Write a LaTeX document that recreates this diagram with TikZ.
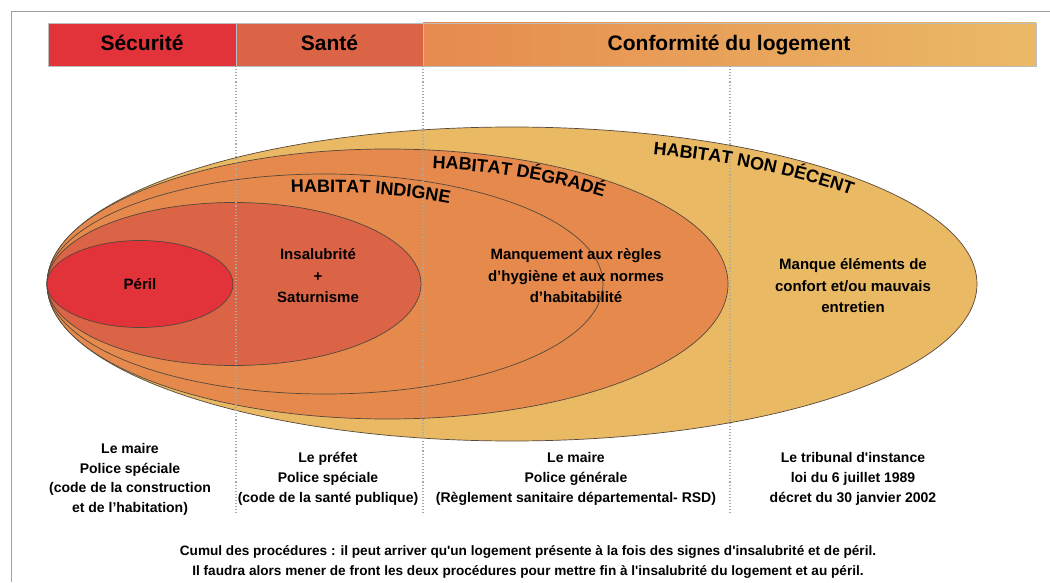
\documentclass[tikz,border=0pt]{standalone}
\usepackage{fontspec}
\setmainfont{Liberation Sans}[Ligatures=TeXOff]
\usetikzlibrary{decorations.text}
\definecolor{cSec}{HTML}{E2333A}
\definecolor{cSan}{HTML}{DC6446}
\definecolor{cConfL}{HTML}{E68A4E}
\definecolor{cConfR}{HTML}{EBBA66}
\definecolor{cND}{HTML}{EAB964}
\definecolor{cDeg}{HTML}{E6894D}
\definecolor{cLine}{HTML}{54483C}
\definecolor{cFrame}{HTML}{A0A0A0}
\definecolor{cSep}{HTML}{A8A8A8}
\tikzset{
  ell/.style={draw=cLine, line width=0.7pt},
  hdrbox/.style={draw=cFrame!70, line width=0.6pt},
  hdr/.style={font=\fontsize{21}{24}\selectfont\bfseries, inner sep=0pt, anchor=base},
  lbl/.style={font=\fontsize{15}{21.5}\selectfont\bfseries, align=center, inner sep=0pt},
  bot/.style={font=\fontsize{14}{19.7}\selectfont\bfseries, align=center, inner sep=0pt},
  foot/.style={font=\fontsize{13.6}{20}\selectfont\bfseries, align=center, inner sep=0pt},
  sepline/.style={draw=cSep, dotted, line width=1.1pt},
  framel/.style={draw=cFrame, line width=0.8pt},
}
\newcommand{\habfont}{\fontsize{18}{18}\selectfont\bfseries}
\begin{document}
\begin{tikzpicture}[x=1pt,y=1pt]
\useasboundingbox (0,0) rectangle (1050,582);
% frame
\coordinate (fTL) at (11,571);
\coordinate (fTR) at (1050,571);
\coordinate (fBL) at (11,0);
\draw[framel] (fTR) -- (fTL) -- (fBL);
% header bar
\fill[cSec] (48,516) rectangle (236,559);
\fill[cSan] (236,516) rectangle (423,559);
\begin{scope}
  \clip (423,516) rectangle (1036,559);
  \shade[left color=cConfL, right color=cConfR] (423,516) rectangle (1036,559);
\end{scope}
\draw[hdrbox] (48,516) rectangle (1036,559);
\draw[hdrbox] (236,516) -- (236,559);
\draw[hdrbox] (423,516) -- (423,559);
\node[hdr] (hSec) at (142,531) {Sécurité};
\node[hdr] (hSan) at (329.5,531) {Santé};
\node[hdr] (hConf) at (729,531) {Conformité du logement};
% ellipses
\filldraw[ell, fill=cND] (512,298) ellipse [x radius=465, y radius=157];
\filldraw[ell, fill=cDeg] (387.5,298) ellipse [x radius=340.5, y radius=135];
\filldraw[ell, fill=cDeg] (325,298) ellipse [x radius=278, y radius=110];
\filldraw[ell, fill=cSan] (234,298) ellipse [x radius=187, y radius=81.5];
\filldraw[ell, fill=cSec] (140,298) ellipse [x radius=93, y radius=43.5];
% separators
\coordinate (s1t) at (236,516); \coordinate (s1b) at (236,69);
\coordinate (s2t) at (423,516); \coordinate (s2b) at (423,69);
\coordinate (s3t) at (730,516); \coordinate (s3b) at (730,69);
\draw[sepline] (s1t) -- (s1b);
\draw[sepline] (s2t) -- (s2b);
\draw[sepline] (s3t) -- (s3b);
% curved labels
\path[shift={(512,298)}, decorate, decoration={text along path, text={|\habfont|HABITAT NON DÉCENT}, text align=fit to path}]
  (71.5:445 and 137) arc[start angle=71.5, end angle=40.5, x radius=445, y radius=137];
\path[shift={(387.5,298)}, decorate, decoration={text along path, text={|\habfont|HABITAT DÉGRADÉ}, text align=fit to path}]
  (82:322 and 117) arc[start angle=82, end angle=48.2, x radius=322, y radius=117];
\path[shift={(325,298)}, decorate, decoration={text along path, text={|\habfont|HABITAT INDIGNE}, text align=fit to path}]
  (97.5:260 and 92) arc[start angle=97.5, end angle=61.8, x radius=260, y radius=92];
% ellipse labels
\node[lbl] (tPer) at (140,298) {Péril};
\node[lbl] (tIns) at (318,306) {Insalubrité\\+\\Saturnisme};
\node[lbl] (tMan) at (576,306) {Manquement aux règles\\d’hygiène et aux normes\\d’habitabilité};
\node[lbl] (tDec) at (853,296) {Manque éléments de\\confort et/ou mauvais\\entretien};
% bottom labels
\node[bot] (b1) at (130,102.5) {Le maire\\Police spéciale\\(code de la construction\\et de l’habitation)};
\node[bot] (b2) at (328,103) {Le préfet\\Police spéciale\\(code de la santé publique)};
\node[bot] (b3) at (576,103) {Le maire\\Police générale\\(Règlement sanitaire départemental- RSD)};
\node[bot] (b4) at (853,103) {Le tribunal d'instance\\ loi du 6 juillet 1989\\décret du 30 janvier 2002};
\node[foot] (ft) at (528,20) {Cumul des procédures : il peut arriver qu'un logement présente à la fois des signes d'insalubrité et de péril.\\Il faudra alors mener de front les deux procédures pour mettre fin à l'insalubrité du logement et au péril.};
\end{tikzpicture}
\end{document}
